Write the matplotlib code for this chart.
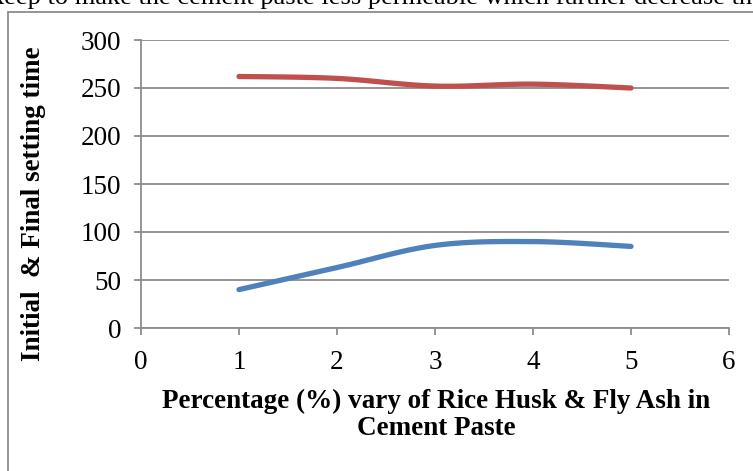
import matplotlib.pyplot as plt
import matplotlib.patches as patches
import numpy as np

plt.rcParams['font.family'] = ['Liberation Serif', 'DejaVu Serif']

# percentage of rice husk & fly ash
pct = [1, 2, 3, 4, 5]
initial_time = [40, 63, 86, 90, 85]
final_time = [262, 260, 252, 254, 250]


def smooth(x, y, n=30):
    # catmull-rom curve through the points, like Excel's "smoothed line"
    x = np.asarray(x, float)
    y = np.asarray(y, float)
    px = np.concatenate([[x[0]], x, [x[-1]]])
    py = np.concatenate([[y[0]], y, [y[-1]]])
    xs, ys = [], []
    t = np.linspace(0, 1, n)
    for i in range(1, len(px) - 2):
        for p, out in ((px, xs), (py, ys)):
            p0, p1, p2, p3 = p[i - 1], p[i], p[i + 1], p[i + 2]
            out.extend(0.5 * (2 * p1 + (-p0 + p2) * t
                              + (2 * p0 - 5 * p1 + 4 * p2 - p3) * t ** 2
                              + (-p0 + 3 * p1 - 3 * p2 + p3) * t ** 3))
    return xs, ys


fig = plt.figure(figsize=(7.53, 4.71), dpi=100)

# cut-off line of document text above the chart
fig.text(-0.012, 1 - 4 / 471, "keep to make the cement paste less permeable which further decrease the",
         fontsize=19, va='baseline', ha='left')

# chart border
fig.patches.append(patches.Rectangle((8 / 753, -0.1), 1.2, 1.1 - 12 / 471, transform=fig.transFigure,
                                     fill=False, edgecolor='#8c8c8c', linewidth=1.3))

ax = fig.add_axes([141 / 753, 1 - 328 / 471, 588 / 753, 288 / 471])

bx, by = smooth(pct, initial_time)
rx, ry = smooth(pct, final_time)
ax.plot(bx, by, color='#4f81bd', linewidth=3.8, solid_capstyle='round')
ax.plot(rx, ry, color='#c0504d', linewidth=3.8, solid_capstyle='round')

ax.set_xlim(0, 6)
ax.set_ylim(0, 300)
ax.set_xticks(range(0, 7))
ax.set_yticks(range(0, 301, 50))
ax.grid(axis='y', color='#8c8c8c', linewidth=1.3)
ax.set_axisbelow(True)
for s in ['top', 'right']:
    ax.spines[s].set_visible(False)
for s in ['left', 'bottom']:
    ax.spines[s].set_color('#8c8c8c')
    ax.spines[s].set_linewidth(1.3)
ax.tick_params(colors='#8c8c8c', labelcolor='black', labelsize=19.5, length=5, width=1.3)
ax.tick_params(axis='x', pad=11)
ax.tick_params(axis='y', pad=9)

fig.text(34 / 753, 1 - 204 / 471, "Initial  & Final setting time", rotation=90,
         fontsize=19.5, fontweight='bold', ha='center', va='center')
fig.text(436 / 753, 1 - 415 / 471, "Percentage (%) vary of Rice Husk & Fly Ash in\nCement Paste",
         fontsize=19.5, fontweight='bold', ha='center', va='center', linespacing=1.15)

fig.savefig('out.png', dpi=100)
